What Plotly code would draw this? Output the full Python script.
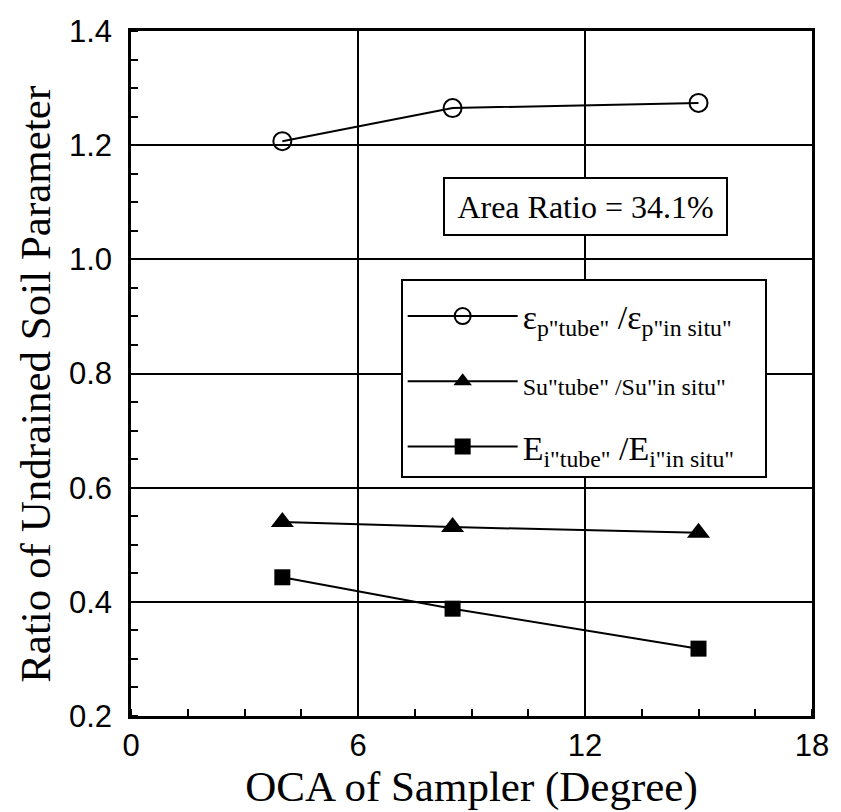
import plotly.graph_objects as go

# Data
oca = [4.0, 8.5, 15.0]
eps_ratio = [1.207, 1.265, 1.274]
su_ratio = [0.540, 0.531, 0.521]
ei_ratio = [0.443, 0.388, 0.318]

x_ticks = [0, 6, 12, 18]
y_ticks = [0.2, 0.4, 0.6, 0.8, 1.0, 1.2, 1.4]

names = [
    'ε<sub>p"tube"</sub> /ε<sub>p"in situ"</sub>',
    '<span style="font-size:24px">Su"tube" /Su"in situ"</span>',
    'E<sub>i"tube"</sub> /E<sub>i"in situ"</sub>&nbsp;&nbsp;&nbsp;',
]

fig = go.Figure()
fig.add_trace(go.Scatter(
    x=oca, y=eps_ratio, mode="lines+markers", name=names[0], legendgroup="a",
    line=dict(color="black", width=2),
    marker=dict(symbol="circle-open", size=18, color="black", line=dict(width=2, color="black")),
))
fig.add_trace(go.Scatter(
    x=oca, y=su_ratio, mode="lines+markers", name=names[1], legendgroup="b",
    line=dict(color="black", width=2),
    marker=dict(symbol="triangle-up", size=20, color="black"),
))
fig.add_trace(go.Scatter(
    x=oca, y=ei_ratio, mode="lines+markers", name=names[2], legendgroup="c",
    line=dict(color="black", width=2),
    marker=dict(symbol="square", size=16, color="black"),
))

fig.add_annotation(
    x=12, y=1.092, xref="x", yref="y", text="Area Ratio = 34.1%", showarrow=False,
    font=dict(family="Liberation Serif", size=32, color="black"),
    width=265, height=39,
    bgcolor="white", bordercolor="black", borderwidth=2, borderpad=8,
)

fig.add_annotation(
    x=-0.1397, y=0.4847, xref="paper", yref="paper", xanchor="center", yanchor="middle",
    text="Ratio of Undrained Soil Parameter", textangle=-90, showarrow=False,
    font=dict(family="Liberation Serif", size=43, color="black"),
)

fig.update_layout(
    width=841, height=812,
    margin=dict(l=131, r=23, t=31, b=96),
    paper_bgcolor="white", plot_bgcolor="white",
    showlegend=True,
    legend=dict(
        x=0.396, y=0.638, xanchor="left", yanchor="top",
        bgcolor="white", bordercolor="black", borderwidth=2,
        font=dict(family="Liberation Serif", size=34, color="black"),
        tracegroupgap=18, itemwidth=110,
        title=dict(text="&nbsp;", font=dict(size=5)),
    ),
    font=dict(color="black"),
)

fig.update_xaxes(
    range=[0, 18], tickvals=x_ticks, ticktext=[str(v) for v in x_ticks],
    showline=True, linecolor="black", linewidth=2.5, mirror=True,
    showgrid=True, gridcolor="black", gridwidth=1.5, zeroline=False,
    ticks="", tickfont=dict(family="Liberation Sans", size=31, color="black"),
    title=dict(text="OCA of Sampler (Degree)", font=dict(family="Liberation Serif", size=43, color="black"), standoff=4),
    minor=dict(dtick=1.5, tick0=0, ticks="inside", ticklen=7, tickcolor="black", tickwidth=1.5, showgrid=False),
)
fig.update_yaxes(
    range=[0.2, 1.4], tickvals=y_ticks, ticktext=[f"{v:.1f}" for v in y_ticks],
    showline=True, linecolor="black", linewidth=2.5, mirror=True,
    showgrid=True, gridcolor="black", gridwidth=1.5, zeroline=False,
    ticks="", ticklabelstandoff=10,
    tickfont=dict(family="Liberation Sans", size=31, color="black"),
    minor=dict(dtick=0.05, tick0=0.2, ticks="inside", ticklen=7, tickcolor="black", tickwidth=1.5, showgrid=False),
)

fig.write_html("out.html")
